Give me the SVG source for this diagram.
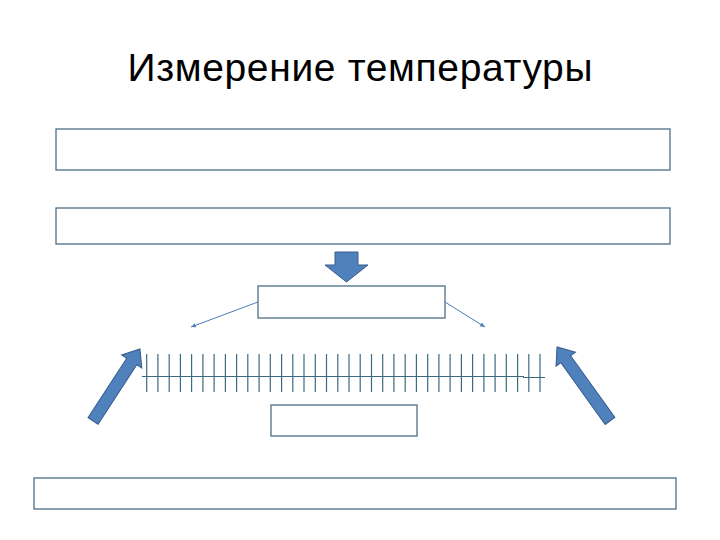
<svg xmlns="http://www.w3.org/2000/svg" width="720" height="540" viewBox="0 0 720 540">
<style>
.box{fill:#ffffff;stroke:#4f6f86;stroke-width:1.3}
.blk{fill:#4f81bd;stroke:#385d8a;stroke-width:1}
.thin{stroke:#4a7ebb;stroke-width:1;fill:none}
.rule{stroke:#3d6b80;stroke-width:1.2;fill:none}
.title{font-family:"Liberation Sans","Open Sans",sans-serif;font-size:39px;fill:#000000}
</style>
<defs>
<marker id="ah" markerWidth="6" markerHeight="6" refX="5" refY="3" orient="auto" markerUnits="userSpaceOnUse">
<path d="M0,0.8 L5,3 L0,5.2 Z" fill="#4a7ebb"/>
</marker>
</defs>
<rect width="720" height="540" fill="#ffffff"/>
<text class="title" x="360" y="81" text-anchor="middle" textLength="465" lengthAdjust="spacing">Измерение температуры</text>

<g id="box1"><rect class="box" x="56" y="129" width="614" height="41"/></g>
<g id="box2"><rect class="box" x="56" y="208" width="614" height="36"/></g>
<g id="box3"><rect class="box" x="258" y="286" width="187" height="32"/></g>
<g id="box4"><rect class="box" x="271" y="405" width="146" height="31"/></g>
<g id="box5"><rect class="box" x="34" y="478" width="642" height="31"/></g>

<g id="ruler">
<path class="rule" d="M142,376.5 H524 M523,377.5 H545"/>
<path class="rule" d="M146.7,354V392 M157.9,354V392 M169.2,354V392 M180.4,354V392 M191.6,354V392 M202.9,354V392 M214.1,354V392 M225.4,354V392 M236.6,354V392 M247.8,354V392 M259.1,354V392 M270.3,354V392 M281.6,354V392 M292.8,354V392 M304.0,354V392 M315.3,354V392 M326.5,354V392 M337.8,354V392 M349.0,354V392 M360.2,354V392 M371.5,354V392 M382.7,354V392 M393.9,354V392 M405.2,354V392 M416.4,354V392 M427.7,354V392 M438.9,354V392 M450.1,354V392 M461.4,354V392 M472.6,354V392 M483.9,354V392 M495.1,354V392 M506.3,354V392 M517.6,354V392 M528.8,354V392 M540.0,354V392"/>
</g>

<g id="connectors">
<path class="blk" d="M335,252 H358 V265 H368 L346.5,282 L325,265 H335 Z"/>
<line class="thin" x1="258" y1="302" x2="191" y2="327" marker-end="url(#ah)"/>
<line class="thin" x1="445" y1="302" x2="485" y2="327" marker-end="url(#ah)"/>
<g transform="translate(93,421) rotate(-56.9)">
<path class="blk" d="M0,-6 H71 V-12 L86,0 L71,12 V6 H0 Z"/>
</g>
<g transform="translate(610,421) rotate(-125.6)">
<path class="blk" d="M0,-6 H76 V-12 L91,0 L76,12 V6 H0 Z"/>
</g>
</g>
</svg>
